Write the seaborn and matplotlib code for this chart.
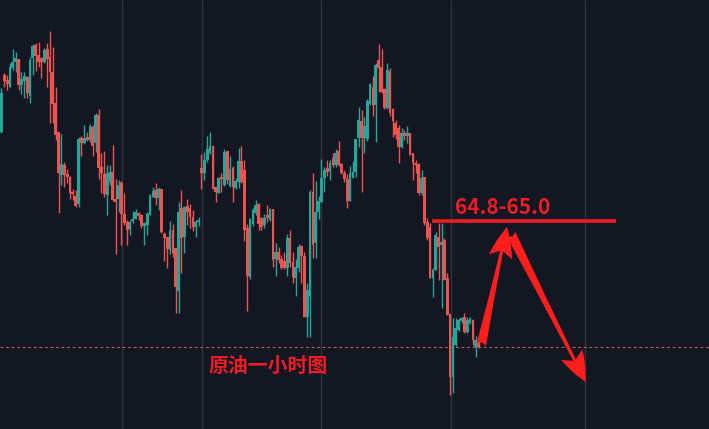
import numpy as np
import pandas as pd
import matplotlib
matplotlib.use("Agg")
import matplotlib.pyplot as plt
import seaborn as sns

# hourly crude oil candles (open, high, low, close)
opens = [65.89, 66.46, 66.41, 66.34, 66.53, 66.59, 66.62, 66.36, 66.40, 66.44,
         66.25, 66.63, 66.76, 66.66, 66.63, 66.59, 66.72, 66.64, 66.49, 66.18,
         65.89, 65.46, 65.56, 65.47, 65.44, 65.29, 65.25, 65.17, 65.83, 65.78,
         65.84, 65.81, 65.94, 65.78, 66.06, 65.54, 65.47, 65.26, 65.39, 65.49,
         65.22, 65.22, 65.38, 65.07, 64.99, 64.92, 65.00, 65.02, 65.08, 65.06,
         64.95, 64.96, 65.06, 65.24, 65.31, 65.23, 65.32, 64.87, 64.84, 64.71,
         64.91, 64.73, 64.30, 65.13, 64.84, 65.15, 65.13, 65.04, 64.94, 64.99,
         65.53, 65.48, 65.61, 65.68, 65.75, 65.34, 65.28, 65.43, 65.36, 65.70,
         65.35, 65.53, 65.33, 65.39, 65.60, 65.51, 64.93, 64.44, 64.97, 65.08,
         65.17, 65.03, 64.96, 65.06, 65.01, 65.12, 64.62, 64.69, 64.62, 64.60,
         64.53, 64.83, 64.59, 64.43, 64.53, 64.75, 64.65, 64.04, 64.25, 65.29,
         64.78, 65.09, 65.19, 65.43, 65.53, 65.50, 65.63, 65.56, 65.70, 65.57,
         65.48, 65.42, 65.20, 65.43, 65.49, 65.83, 66.00, 65.83, 65.82, 66.17,
         66.34, 66.16, 66.61, 66.54, 66.32, 66.13, 66.50, 66.12, 65.98, 65.93,
         65.74, 65.88, 65.85, 65.88, 65.68, 65.58, 65.57, 65.28, 65.44, 64.99,
         64.94, 64.43, 64.51, 64.84, 64.76, 64.81, 64.43, 64.07, 63.44, 63.76,
         63.91, 64.00, 64.04, 63.89, 63.98, 64.01, 63.74, 63.80]
highs = [66.33, 66.48, 66.46, 66.58, 66.72, 66.69, 66.62, 66.49, 66.49, 66.45,
         66.64, 66.77, 66.78, 66.79, 66.64, 66.73, 66.78, 66.90, 66.74, 66.34,
         65.89, 65.87, 65.59, 65.52, 65.45, 65.32, 65.31, 65.84, 65.85, 65.96,
         65.89, 65.97, 65.96, 66.08, 66.12, 65.68, 65.70, 65.56, 65.56, 65.76,
         65.42, 65.41, 65.40, 65.28, 65.01, 65.01, 65.10, 65.12, 65.09, 65.07,
         64.99, 65.09, 65.27, 65.34, 65.38, 65.34, 65.32, 64.89, 64.84, 65.00,
         64.97, 64.73, 65.19, 65.31, 65.15, 65.22, 65.17, 65.11, 65.01, 65.04,
         65.67, 65.69, 65.85, 65.89, 65.75, 65.34, 65.44, 65.48, 65.72, 65.70,
         65.65, 65.55, 65.43, 65.73, 65.75, 65.61, 64.97, 65.03, 65.13, 65.21,
         65.18, 65.04, 65.07, 65.16, 65.13, 65.12, 64.78, 64.74, 64.66, 64.69,
         64.87, 64.91, 64.69, 64.62, 64.77, 64.76, 64.69, 64.38, 65.31, 65.48,
         65.40, 65.25, 65.62, 65.54, 65.61, 65.61, 65.68, 65.72, 65.80, 65.58,
         65.51, 65.47, 65.55, 65.60, 65.82, 66.14, 66.11, 66.04, 66.22, 66.38,
         66.45, 66.58, 66.77, 66.72, 66.33, 66.58, 66.53, 66.13, 66.01, 65.96,
         65.93, 65.91, 65.95, 65.88, 65.68, 65.61, 65.58, 65.51, 65.44, 65.03,
         64.98, 64.53, 64.89, 64.98, 64.98, 64.83, 64.48, 64.07, 64.03, 64.03,
         64.03, 64.04, 64.08, 64.04, 64.04, 64.02, 63.85, 63.84]
lows = [65.88, 66.34, 66.31, 66.34, 66.51, 66.49, 66.31, 66.27, 66.23, 66.23,
        66.18, 66.46, 66.50, 66.54, 66.43, 66.58, 66.34, 65.98, 65.98, 65.81,
        65.08, 65.36, 65.34, 65.38, 65.22, 65.21, 65.14, 65.14, 65.65, 65.77,
        65.80, 65.79, 65.65, 65.69, 65.42, 65.28, 65.24, 65.06, 65.36, 65.20,
        64.67, 65.09, 64.76, 64.96, 64.76, 64.86, 64.98, 65.02, 65.01, 64.93,
        64.76, 64.86, 65.06, 65.24, 65.16, 65.11, 64.88, 64.60, 64.53, 64.67,
        64.64, 64.08, 64.08, 64.48, 64.68, 64.96, 64.93, 64.90, 64.84, 64.95,
        65.32, 65.41, 65.59, 65.67, 65.32, 65.19, 65.28, 65.29, 65.35, 65.37,
        65.34, 65.19, 65.32, 65.33, 65.38, 64.80, 64.10, 64.42, 64.95, 65.06,
        64.91, 64.91, 64.93, 64.99, 65.00, 64.54, 64.45, 64.58, 64.52, 64.52,
        64.45, 64.54, 64.38, 64.25, 64.49, 64.38, 64.04, 63.84, 63.84, 64.63,
        64.63, 65.02, 65.19, 65.29, 65.45, 65.41, 65.54, 65.54, 65.55, 65.47,
        65.39, 65.13, 65.20, 65.43, 65.44, 65.74, 65.29, 65.68, 65.80, 66.16,
        66.05, 65.79, 66.29, 66.28, 66.12, 66.12, 66.05, 65.84, 65.82, 65.58,
        65.73, 65.81, 65.78, 65.66, 65.41, 65.48, 65.26, 65.26, 64.96, 64.81,
        64.43, 64.24, 64.51, 64.41, 64.13, 64.41, 64.06, 63.26, 63.28, 63.75,
        63.90, 63.98, 63.88, 63.88, 63.97, 63.76, 63.64, 63.73]
closes = [66.28, 66.40, 66.37, 66.54, 66.59, 66.63, 66.36, 66.42, 66.45, 66.28,
          66.61, 66.75, 66.65, 66.59, 66.59, 66.71, 66.62, 66.49, 66.17, 65.86,
          65.48, 65.57, 65.46, 65.44, 65.28, 65.27, 65.15, 65.82, 65.78, 65.83,
          65.81, 65.95, 65.75, 66.06, 65.53, 65.48, 65.27, 65.48, 65.49, 65.21,
          65.19, 65.36, 65.07, 64.98, 64.91, 64.99, 65.02, 65.09, 65.05, 64.95,
          64.98, 65.07, 65.26, 65.30, 65.23, 65.32, 64.89, 64.83, 64.72, 64.91,
          64.68, 64.34, 65.09, 64.83, 65.14, 65.09, 65.04, 64.94, 64.99, 65.00,
          65.48, 65.61, 65.72, 65.75, 65.32, 65.29, 65.43, 65.42, 65.69, 65.41,
          65.52, 65.34, 65.40, 65.60, 65.39, 64.91, 64.45, 65.02, 65.11, 65.16,
          64.97, 64.94, 65.03, 65.03, 65.12, 64.61, 64.69, 64.61, 64.53, 64.53,
          64.83, 64.58, 64.44, 64.54, 64.74, 64.65, 64.04, 64.31, 65.29, 64.76,
          65.09, 65.20, 65.43, 65.51, 65.49, 65.58, 65.56, 65.68, 65.56, 65.48,
          65.42, 65.20, 65.48, 65.49, 65.82, 66.01, 65.83, 65.95, 66.20, 66.37,
          66.16, 66.56, 66.53, 66.29, 66.13, 66.51, 66.08, 66.00, 65.86, 65.74,
          65.88, 65.85, 65.88, 65.66, 65.58, 65.56, 65.28, 65.43, 64.98, 64.83,
          64.43, 64.51, 64.86, 64.74, 64.79, 64.41, 64.06, 63.44, 63.84, 63.93,
          64.01, 64.03, 63.89, 64.01, 64.02, 63.81, 63.81, 63.74]

day_breaks = [42.3, 70.2, 111.9, 157.2, 204.2]
last_price = 63.74
zone_price = 65.00
zone_label = "64.8-65.0"
title_text = "原油一小时图"

BG = "#131722"
UP = "#26a69a"
DOWN = "#ef5350"
MARK = "#ee1c25"

df = pd.DataFrame({"open": opens, "high": highs, "low": lows, "close": closes})
df["idx"] = np.arange(len(df))
df["up"] = df.close >= df.open
df["color"] = np.where(df.up, UP, DOWN)

sns.set_theme(style="dark", rc={"axes.facecolor": BG, "figure.facecolor": BG,
                                "savefig.facecolor": BG})
plt.rcParams['font.family'] = ['Noto Sans CJK SC', 'DejaVu Sans']

fig = plt.figure(figsize=(7.09, 4.29), dpi=100)
ax = fig.add_axes([0, 0, 1, 1])

for xb in day_breaks:
    ax.axvline(xb, color="#2f333e", lw=1.0, zorder=0)

ax.axhline(last_price, color="#c8585c", lw=0.8, ls=(0, (2.5, 2.5)), zorder=1)

# wicks and bodies
ax.vlines(df.idx, df.low, df.high, colors=df.color, lw=1.0, zorder=2)
body_lo = np.minimum(df.open, df.close)
body_h = np.maximum(np.abs(df.close - df.open), 0.015)
ax.bar(df.idx, body_h, bottom=body_lo, width=0.97, color=df.color, lw=0, zorder=3)

# resistance zone
ax.hlines(zone_price, 150.5, 214.9, colors=MARK, lw=2.6, zorder=4)
ax.text(158.6, zone_price + 0.025, zone_label, color=MARK, fontsize=15,
        fontweight="bold", ha="left", va="bottom")

arrow = dict(arrowstyle="fancy,head_length=1.1,head_width=0.85,tail_width=0.35",
             color="#ff1e1e", lw=0, mutation_scale=20, shrinkA=0, shrinkB=0)
ax.annotate("", xy=(176.9, 64.94), xytext=(167.9, 63.76), arrowprops=arrow, zorder=5)
ax.annotate("", xy=(204.4, 63.39), xytext=(178.3, 64.87), arrowprops=arrow, zorder=5)

ax.text(72.6, 63.56, title_text, color=MARK, fontsize=14.3, fontweight="bold",
        ha="left", va="center")

ax.set_xlim(-0.5, 247.6)
ax.set_ylim(62.92, 67.21)
ax.set_xticks([])
ax.set_yticks([])
for s in ax.spines.values():
    s.set_visible(False)

fig.savefig("out.png", dpi=100)
